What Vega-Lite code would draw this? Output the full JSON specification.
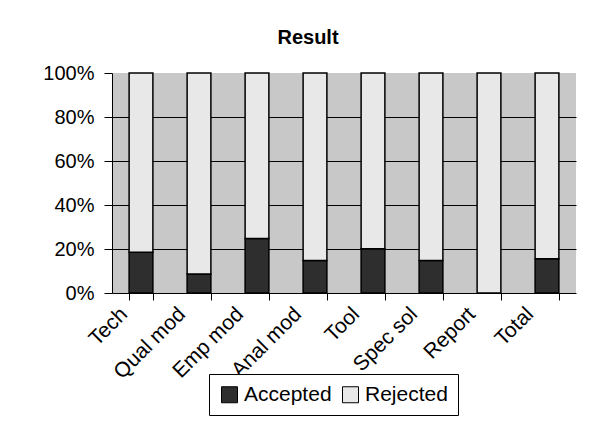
{
  "$schema": "https://vega.github.io/schema/vega-lite/v6.json",
  "width": 464,
  "height": 220,
  "autosize": "none",
  "padding": {"left": 112, "top": 73, "right": 24, "bottom": 145},
  "background": "white",
  "title": {"text": "Result", "font": "Liberation Sans", "fontSize": 20, "fontWeight": "bold", "color": "black", "dx": -36, "offset": 15},
  "data": {"values": [
    {"category": "Tech", "result": "Accepted", "pct": 18.5},
    {"category": "Tech", "result": "Rejected", "pct": 81.5},
    {"category": "Qual mod", "result": "Accepted", "pct": 8.6},
    {"category": "Qual mod", "result": "Rejected", "pct": 91.4},
    {"category": "Emp mod", "result": "Accepted", "pct": 24.8},
    {"category": "Emp mod", "result": "Rejected", "pct": 75.2},
    {"category": "Anal mod", "result": "Accepted", "pct": 14.8},
    {"category": "Anal mod", "result": "Rejected", "pct": 85.2},
    {"category": "Tool", "result": "Accepted", "pct": 20.1},
    {"category": "Tool", "result": "Rejected", "pct": 79.9},
    {"category": "Spec sol", "result": "Accepted", "pct": 14.8},
    {"category": "Spec sol", "result": "Rejected", "pct": 85.2},
    {"category": "Report", "result": "Accepted", "pct": 0},
    {"category": "Report", "result": "Rejected", "pct": 100},
    {"category": "Total", "result": "Accepted", "pct": 15.6},
    {"category": "Total", "result": "Rejected", "pct": 84.4}
  ]},
  "mark": {"type": "bar", "stroke": "black", "strokeWidth": 1.5},
  "encoding": {
    "x": {
      "field": "category", "type": "nominal", "sort": null,
      "scale": {"paddingInner": 0.59, "paddingOuter": 0.295},
      "axis": {"title": null, "labelAngle": -45, "labelAlign": "right", "labelBaseline": "alphabetic",
               "labelOffset": -13, "labelPadding": 15,
               "labelFont": "Liberation Sans", "labelFontSize": 21, "labelColor": "black",
               "tickBand": "extent", "tickColor": "black", "tickSize": 7, "domainColor": "black", "labelLimit": 200}
    },
    "y": {
      "field": "pct", "type": "quantitative", "stack": "normalize",
      "scale": {"domain": [0, 1]},
      "axis": {"title": null, "format": ".0%", "values": [0, 0.2, 0.4, 0.6, 0.8, 1], "labelFont": "Liberation Sans", "labelFontSize": 20,
               "labelColor": "black", "tickColor": "black", "tickSize": 8, "labelPadding": 10, "domainColor": "black",
               "grid": true, "gridColor": {"condition": {"test": "datum.value === 1 || datum.value === 0", "value": "transparent"}, "value": "black"}, "gridOpacity": 1}
    },
    "order": {"field": "result", "sort": "ascending"},
    "color": {
      "field": "result", "type": "nominal",
      "scale": {"domain": ["Accepted", "Rejected"], "range": ["#2e2e2e", "#e8e8e8"]},
      "legend": {"title": null, "orient": "none", "legendX": 97, "legendY": 301, "direction": "horizontal",
                 "strokeColor": "black", "padding": 10, "fillColor": "white",
                 "symbolType": "square", "symbolSize": 256, "symbolStrokeColor": "black", "symbolStrokeWidth": 1,
                 "labelFont": "Liberation Sans", "labelFontSize": 21, "labelColor": "black", "labelOffset": 4, "columnPadding": 8}
    }
  },
  "config": {"view": {"fill": "#c8c8c8", "stroke": null}}
}
